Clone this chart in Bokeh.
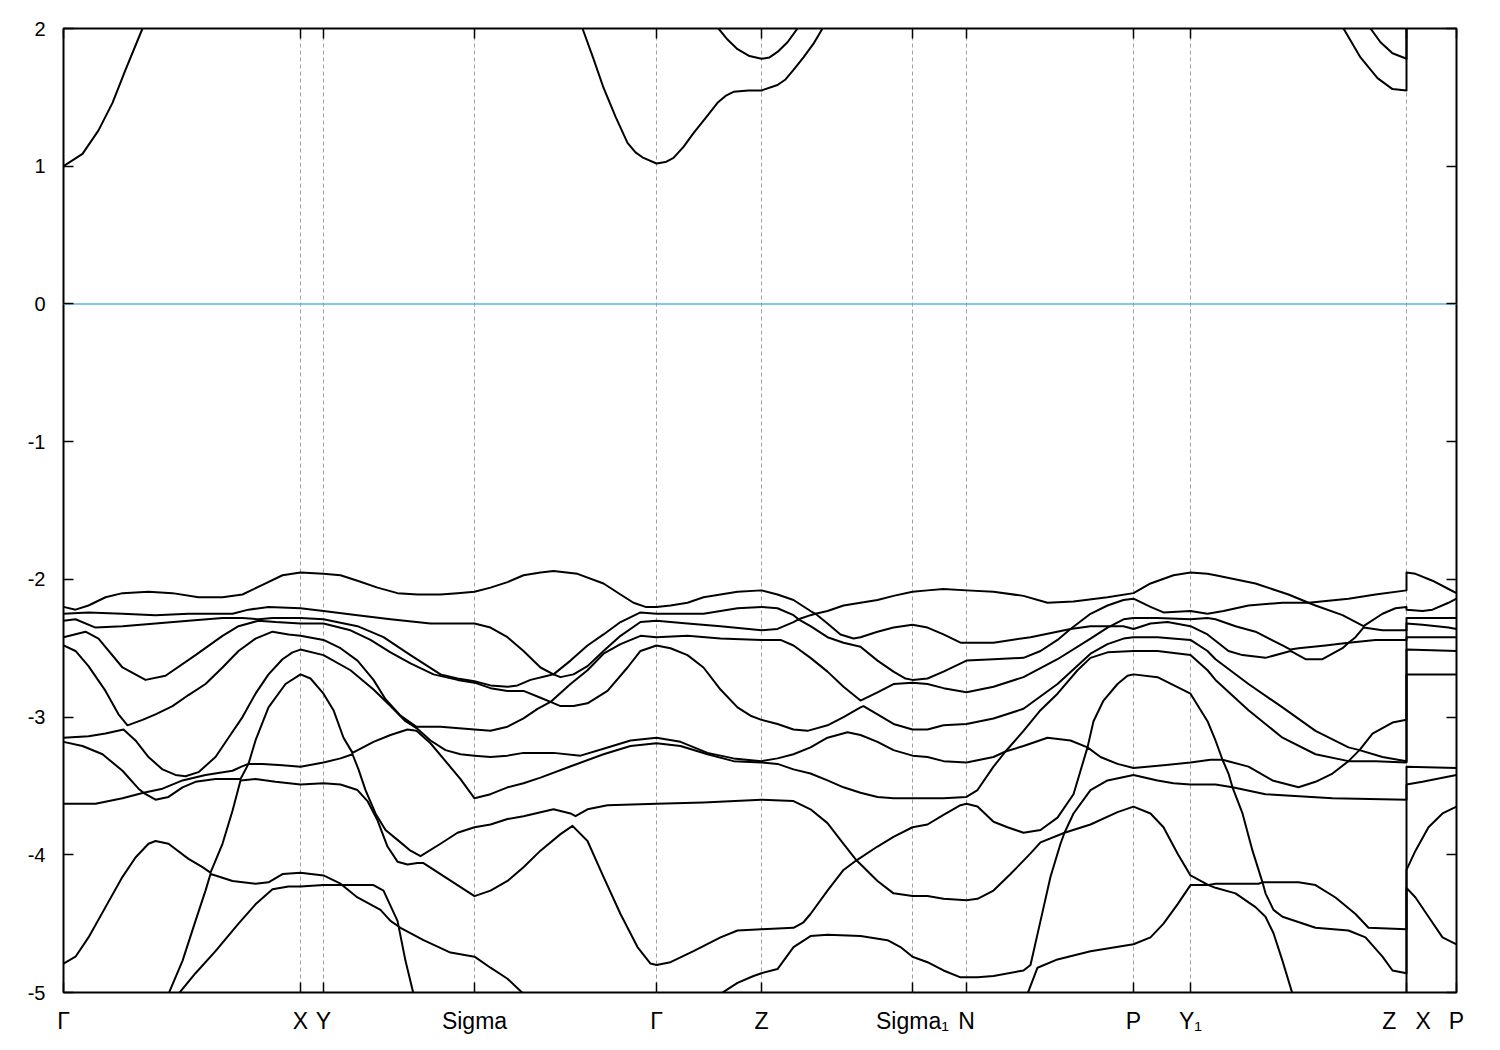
from bokeh.plotting import figure
from bokeh.models import FixedTicker, CustomJSTickFormatter, LinearAxis, Range1d
from bokeh.embed import file_html
from bokeh.resources import INLINE

# high-symmetry points along the k-path
KPOS = [0.000, 0.237, 0.260, 0.411, 0.593, 0.698, 0.849, 0.903, 1.070, 1.127, 1.343, 1.393]
KLAB = ["\u0393", "X", "Y", "Sigma", "\u0393", "Z", "Sigma\u2081", "N", "P", "Y\u2081",
        "Z\u00a0\u00a0\u00a0X", "P"]
YTICKS = [-5, -4, -3, -2, -1, 0, 1, 2]
E_FERMI = 0.0

# valence bands (k, E) sorted by band index from the top
B1 = [(0.000,-2.20),(0.012,-2.22),(0.025,-2.19),(0.042,-2.13),(0.059,-2.10),(0.085,-2.09),(0.109,-2.10),(0.135,-2.13),(0.159,-2.13),(0.179,-2.11),(0.199,-2.04),(0.219,-1.97),(0.237,-1.95),(0.260,-1.96),(0.277,-1.97),(0.294,-2.01),(0.314,-2.06),(0.334,-2.10),(0.354,-2.11),(0.377,-2.11),(0.394,-2.10),(0.411,-2.09),(0.427,-2.06),(0.444,-2.02),(0.460,-1.97),(0.477,-1.95),(0.490,-1.94),(0.514,-1.96),(0.540,-2.03),(0.557,-2.11),(0.570,-2.17),(0.582,-2.20),(0.593,-2.20),(0.607,-2.19),(0.624,-2.17),(0.640,-2.13),(0.657,-2.11),(0.674,-2.09),(0.698,-2.08),(0.714,-2.11),(0.730,-2.15),(0.747,-2.23),(0.752,-2.25),(0.764,-2.23),(0.780,-2.19),(0.797,-2.17),(0.814,-2.15),(0.830,-2.12),(0.849,-2.09),(0.864,-2.08),(0.880,-2.07),(0.903,-2.08),(0.930,-2.09),(0.960,-2.12),(0.984,-2.17),(1.010,-2.16),(1.044,-2.13),(1.070,-2.10),(1.087,-2.03),(1.110,-1.97),(1.127,-1.95),(1.144,-1.96),(1.152,-1.97),(1.192,-2.03),(1.225,-2.11),(1.245,-2.17),(1.285,-2.14),(1.312,-2.11),(1.343,-2.08),(1.343,-1.95),(1.352,-1.96),(1.369,-2.01),(1.385,-2.07),(1.393,-2.10)]
B2 = [(0.000,-2.25),(0.025,-2.24),(0.059,-2.25),(0.092,-2.26),(0.125,-2.25),(0.152,-2.25),(0.169,-2.25),(0.185,-2.22),(0.205,-2.20),(0.237,-2.21),(0.260,-2.23),(0.294,-2.26),(0.327,-2.29),(0.367,-2.32),(0.411,-2.32),(0.427,-2.35),(0.444,-2.42),(0.460,-2.52),(0.477,-2.64),(0.490,-2.69),(0.507,-2.59),(0.524,-2.48),(0.540,-2.40),(0.557,-2.31),(0.577,-2.24),(0.593,-2.25),(0.624,-2.25),(0.640,-2.25),(0.657,-2.23),(0.674,-2.21),(0.698,-2.20),(0.714,-2.21),(0.730,-2.26),(0.735,-2.29),(0.747,-2.26),(0.752,-2.25),(0.764,-2.32),(0.777,-2.40),(0.790,-2.43),(0.797,-2.42),(0.814,-2.38),(0.830,-2.35),(0.849,-2.33),(0.864,-2.35),(0.880,-2.40),(0.897,-2.46),(0.903,-2.46),(0.930,-2.46),(0.967,-2.42),(1.007,-2.36),(1.027,-2.25),(1.044,-2.19),(1.060,-2.15),(1.070,-2.14),(1.087,-2.20),(1.100,-2.24),(1.127,-2.23),(1.144,-2.25),(1.160,-2.23),(1.185,-2.19),(1.219,-2.17),(1.245,-2.17),(1.252,-2.19),(1.279,-2.26),(1.300,-2.34),(1.319,-2.25),(1.332,-2.21),(1.343,-2.20),(1.343,-2.22),(1.359,-2.23),(1.369,-2.22),(1.385,-2.17),(1.393,-2.14)]
B3 = [(0.000,-2.30),(0.012,-2.29),(0.032,-2.35),(0.059,-2.34),(0.092,-2.32),(0.125,-2.30),(0.159,-2.28),(0.179,-2.28),(0.195,-2.29),(0.209,-2.28),(0.237,-2.28),(0.260,-2.29),(0.294,-2.34),(0.320,-2.42),(0.347,-2.55),(0.377,-2.69),(0.394,-2.72),(0.411,-2.74),(0.427,-2.77),(0.444,-2.78),(0.454,-2.77),(0.467,-2.73),(0.484,-2.70),(0.490,-2.69),(0.497,-2.71),(0.510,-2.69),(0.524,-2.63),(0.540,-2.52),(0.557,-2.41),(0.577,-2.31),(0.593,-2.30),(0.624,-2.32),(0.657,-2.34),(0.698,-2.37),(0.714,-2.36),(0.730,-2.31),(0.735,-2.29),(0.747,-2.34),(0.764,-2.42),(0.780,-2.46),(0.797,-2.49),(0.814,-2.59),(0.830,-2.67),(0.842,-2.72),(0.849,-2.73),(0.864,-2.72),(0.880,-2.67),(0.903,-2.59),(0.930,-2.58),(0.960,-2.57),(0.977,-2.52),(0.994,-2.44),(1.007,-2.36),(1.027,-2.34),(1.047,-2.34),(1.060,-2.29),(1.070,-2.28),(1.094,-2.28),(1.127,-2.29),(1.144,-2.28),(1.152,-2.29),(1.172,-2.34),(1.192,-2.38),(1.219,-2.48),(1.227,-2.51),(1.235,-2.50),(1.262,-2.48),(1.285,-2.46),(1.292,-2.42),(1.300,-2.35),(1.319,-2.37),(1.343,-2.37),(1.343,-2.28),(1.393,-2.28)]
B4 = [(0.000,-2.42),(0.022,-2.38),(0.035,-2.43),(0.059,-2.64),(0.082,-2.73),(0.102,-2.70),(0.132,-2.55),(0.159,-2.41),(0.175,-2.34),(0.195,-2.30),(0.212,-2.31),(0.237,-2.32),(0.260,-2.32),(0.287,-2.37),(0.307,-2.44),(0.327,-2.53),(0.347,-2.61),(0.370,-2.69),(0.394,-2.73),(0.411,-2.75),(0.427,-2.79),(0.444,-2.81),(0.460,-2.81),(0.477,-2.86),(0.487,-2.89),(0.507,-2.76),(0.524,-2.66),(0.540,-2.54),(0.557,-2.47),(0.577,-2.41),(0.593,-2.42),(0.624,-2.41),(0.657,-2.43),(0.698,-2.44),(0.717,-2.44),(0.730,-2.48),(0.747,-2.57),(0.764,-2.67),(0.780,-2.78),(0.797,-2.88),(0.814,-2.82),(0.830,-2.76),(0.849,-2.75),(0.864,-2.76),(0.880,-2.79),(0.903,-2.82),(0.930,-2.78),(0.960,-2.71),(0.994,-2.58),(1.027,-2.43),(1.044,-2.35),(1.047,-2.34),(1.060,-2.34),(1.070,-2.36),(1.087,-2.32),(1.104,-2.31),(1.127,-2.34),(1.144,-2.40),(1.165,-2.52),(1.179,-2.55),(1.202,-2.57),(1.227,-2.52),(1.242,-2.58),(1.259,-2.58),(1.279,-2.50),(1.285,-2.46),(1.312,-2.44),(1.343,-2.44),(1.343,-2.32),(1.359,-2.33),(1.385,-2.35),(1.393,-2.36)]
B5 = [(0.000,-2.48),(0.012,-2.52),(0.025,-2.63),(0.042,-2.81),(0.055,-2.98),(0.064,-3.06),(0.079,-3.02),(0.092,-2.98),(0.109,-2.92),(0.125,-2.84),(0.142,-2.76),(0.159,-2.64),(0.175,-2.52),(0.192,-2.43),(0.209,-2.38),(0.225,-2.40),(0.237,-2.41),(0.260,-2.44),(0.277,-2.50),(0.294,-2.59),(0.310,-2.73),(0.322,-2.87),(0.337,-2.99),(0.353,-3.07),(0.377,-3.07),(0.411,-3.09),(0.427,-3.10),(0.444,-3.07),(0.460,-3.01),(0.474,-2.94),(0.487,-2.89),(0.497,-2.92),(0.510,-2.92),(0.524,-2.90),(0.544,-2.81),(0.564,-2.64),(0.577,-2.52),(0.593,-2.48),(0.607,-2.50),(0.624,-2.55),(0.640,-2.64),(0.657,-2.80),(0.674,-2.93),(0.687,-2.99),(0.698,-3.02),(0.714,-3.05),(0.730,-3.09),(0.744,-3.10),(0.764,-3.06),(0.780,-3.00),(0.797,-2.93),(0.800,-2.92),(0.814,-2.98),(0.830,-3.05),(0.849,-3.09),(0.864,-3.09),(0.880,-3.06),(0.903,-3.05),(0.930,-3.01),(0.960,-2.94),(0.994,-2.76),(1.027,-2.54),(1.044,-2.47),(1.060,-2.43),(1.070,-2.42),(1.094,-2.42),(1.127,-2.44),(1.144,-2.52),(1.152,-2.58),(1.185,-2.76),(1.219,-2.93),(1.252,-3.10),(1.285,-3.22),(1.296,-3.24),(1.309,-3.12),(1.329,-3.04),(1.343,-3.02),(1.343,-2.42),(1.393,-2.42)]
B6 = [(0.000,-3.15),(0.025,-3.14),(0.042,-3.12),(0.060,-3.09),(0.072,-3.17),(0.085,-3.29),(0.099,-3.38),(0.112,-3.42),(0.122,-3.43),(0.135,-3.40),(0.152,-3.29),(0.165,-3.15),(0.179,-3.00),(0.192,-2.83),(0.205,-2.69),(0.219,-2.58),(0.229,-2.53),(0.237,-2.51),(0.260,-2.55),(0.287,-2.66),(0.310,-2.80),(0.327,-2.92),(0.342,-3.03),(0.353,-3.08),(0.367,-3.17),(0.382,-3.24),(0.397,-3.27),(0.411,-3.28),(0.427,-3.29),(0.444,-3.28),(0.460,-3.26),(0.477,-3.26),(0.490,-3.26),(0.517,-3.28),(0.540,-3.23),(0.567,-3.17),(0.593,-3.15),(0.617,-3.18),(0.644,-3.26),(0.670,-3.30),(0.698,-3.32),(0.714,-3.30),(0.730,-3.27),(0.747,-3.22),(0.764,-3.15),(0.784,-3.11),(0.797,-3.13),(0.814,-3.18),(0.830,-3.24),(0.849,-3.28),(0.864,-3.29),(0.880,-3.32),(0.903,-3.33),(0.930,-3.29),(0.942,-3.25),(0.960,-3.10),(0.977,-2.95),(0.994,-2.83),(1.014,-2.66),(1.027,-2.57),(1.044,-2.53),(1.070,-2.52),(1.094,-2.52),(1.127,-2.55),(1.144,-2.66),(1.152,-2.73),(1.185,-2.95),(1.219,-3.15),(1.252,-3.27),(1.285,-3.32),(1.296,-3.24),(1.319,-3.29),(1.343,-3.32),(1.343,-2.51),(1.393,-2.52)]
B7 = [(0.000,-3.18),(0.019,-3.21),(0.039,-3.27),(0.059,-3.39),(0.075,-3.52),(0.080,-3.55),(0.099,-3.52),(0.119,-3.46),(0.142,-3.42),(0.169,-3.39),(0.178,-3.36),(0.185,-3.34),(0.192,-3.17),(0.205,-2.93),(0.222,-2.76),(0.237,-2.69),(0.247,-2.72),(0.260,-2.83),(0.270,-2.95),(0.280,-3.15),(0.289,-3.26),(0.310,-3.18),(0.327,-3.13),(0.344,-3.09),(0.353,-3.10),(0.367,-3.19),(0.382,-3.32),(0.397,-3.45),(0.411,-3.59),(0.427,-3.56),(0.444,-3.51),(0.460,-3.48),(0.477,-3.44),(0.510,-3.35),(0.540,-3.27),(0.567,-3.21),(0.593,-3.19),(0.617,-3.21),(0.644,-3.27),(0.670,-3.32),(0.698,-3.33),(0.714,-3.34),(0.730,-3.38),(0.747,-3.41),(0.764,-3.46),(0.780,-3.51),(0.797,-3.55),(0.814,-3.58),(0.830,-3.59),(0.849,-3.59),(0.864,-3.59),(0.880,-3.59),(0.903,-3.58),(0.914,-3.53),(0.930,-3.36),(0.942,-3.25),(0.960,-3.21),(0.984,-3.15),(1.007,-3.17),(1.024,-3.22),(1.030,-3.03),(1.040,-2.88),(1.054,-2.76),(1.064,-2.70),(1.070,-2.69),(1.094,-2.71),(1.127,-2.83),(1.144,-3.03),(1.152,-3.17),(1.159,-3.31),(1.185,-3.36),(1.209,-3.46),(1.235,-3.51),(1.252,-3.47),(1.269,-3.41),(1.285,-3.32),(1.312,-3.32),(1.343,-3.33),(1.343,-2.69),(1.393,-2.69)]
B8 = [(0.000,-3.63),(0.032,-3.63),(0.059,-3.59),(0.080,-3.55),(0.092,-3.60),(0.105,-3.58),(0.119,-3.51),(0.132,-3.47),(0.152,-3.45),(0.177,-3.45),(0.185,-3.34),(0.199,-3.34),(0.219,-3.35),(0.237,-3.36),(0.260,-3.33),(0.277,-3.30),(0.289,-3.27),(0.295,-3.38),(0.302,-3.53),(0.312,-3.70),(0.322,-3.82),(0.337,-3.91),(0.347,-3.97),(0.357,-4.01),(0.377,-3.92),(0.394,-3.84),(0.411,-3.80),(0.427,-3.78),(0.444,-3.74),(0.460,-3.72),(0.490,-3.67),(0.507,-3.70),(0.512,-3.72),(0.524,-3.67),(0.544,-3.64),(0.593,-3.63),(0.640,-3.62),(0.698,-3.60),(0.730,-3.61),(0.747,-3.67),(0.764,-3.77),(0.780,-3.92),(0.793,-4.04),(0.814,-3.94),(0.830,-3.87),(0.849,-3.80),(0.864,-3.78),(0.880,-3.71),(0.897,-3.64),(0.903,-3.63),(0.914,-3.65),(0.930,-3.76),(0.944,-3.80),(0.960,-3.84),(0.977,-3.82),(0.994,-3.73),(1.010,-3.56),(1.024,-3.22),(1.037,-3.29),(1.054,-3.34),(1.070,-3.37),(1.100,-3.35),(1.127,-3.33),(1.147,-3.31),(1.159,-3.31),(1.165,-3.41),(1.169,-3.51),(1.202,-3.56),(1.269,-3.59),(1.343,-3.60),(1.343,-3.36),(1.393,-3.37)]
B9 = [(0.000,-4.79),(0.012,-4.74),(0.025,-4.60),(0.042,-4.38),(0.059,-4.16),(0.072,-4.02),(0.085,-3.92),(0.092,-3.90),(0.105,-3.92),(0.125,-4.03),(0.139,-4.09),(0.147,-4.13),(0.159,-3.92),(0.169,-3.68),(0.177,-3.46),(0.192,-3.45),(0.212,-3.47),(0.237,-3.49),(0.260,-3.48),(0.277,-3.49),(0.294,-3.53),(0.304,-3.61),(0.314,-3.75),(0.324,-3.94),(0.334,-4.05),(0.344,-4.07),(0.354,-4.06),(0.360,-4.06),(0.377,-4.14),(0.394,-4.22),(0.411,-4.30),(0.427,-4.26),(0.444,-4.19),(0.460,-4.09),(0.477,-3.97),(0.497,-3.85),(0.509,-3.79),(0.524,-3.90),(0.540,-4.16),(0.557,-4.43),(0.574,-4.67),(0.587,-4.79),(0.593,-4.80),(0.607,-4.78),(0.630,-4.70),(0.657,-4.60),(0.674,-4.55),(0.698,-4.54),(0.730,-4.53),(0.740,-4.49),(0.747,-4.43),(0.764,-4.26),(0.780,-4.11),(0.793,-4.04),(0.814,-4.19),(0.830,-4.28),(0.849,-4.30),(0.864,-4.30),(0.880,-4.32),(0.903,-4.33),(0.914,-4.32),(0.930,-4.26),(0.947,-4.14),(0.967,-3.99),(0.977,-3.91),(1.001,-3.84),(1.010,-3.70),(1.027,-3.53),(1.044,-3.46),(1.070,-3.42),(1.094,-3.46),(1.110,-3.48),(1.127,-3.49),(1.152,-3.49),(1.169,-3.51),(1.179,-3.70),(1.189,-3.97),(1.199,-4.20),(1.235,-4.20),(1.252,-4.22),(1.272,-4.31),(1.292,-4.43),(1.305,-4.53),(1.343,-4.54),(1.343,-3.49),(1.359,-3.47),(1.379,-3.44),(1.393,-3.42)]
B10 = [(0.000,-5.25),(0.105,-5.01),(0.119,-4.77),(0.132,-4.48),(0.142,-4.26),(0.147,-4.14),(0.152,-4.15),(0.169,-4.19),(0.192,-4.21),(0.205,-4.20),(0.219,-4.14),(0.237,-4.13),(0.260,-4.15),(0.277,-4.21),(0.294,-4.31),(0.317,-4.40),(0.327,-4.48),(0.337,-4.53),(0.360,-4.62),(0.387,-4.71),(0.411,-4.74),(0.427,-4.82),(0.444,-4.90),(0.460,-5.01),(0.593,-5.25),(0.657,-5.01),(0.674,-4.93),(0.690,-4.88),(0.698,-4.86),(0.714,-4.83),(0.730,-4.67),(0.747,-4.59),(0.764,-4.58),(0.797,-4.59),(0.824,-4.62),(0.837,-4.67),(0.849,-4.74),(0.864,-4.78),(0.880,-4.84),(0.897,-4.89),(0.903,-4.89),(0.914,-4.89),(0.930,-4.88),(0.960,-4.84),(0.967,-4.80),(0.977,-4.48),(0.987,-4.16),(0.997,-3.92),(1.001,-3.84),(1.027,-3.78),(1.054,-3.69),(1.070,-3.65),(1.087,-3.70),(1.100,-3.80),(1.114,-3.99),(1.127,-4.15),(1.145,-4.22),(1.152,-4.21),(1.195,-4.21),(1.199,-4.20),(1.202,-4.28),(1.210,-4.40),(1.219,-4.45),(1.252,-4.53),(1.285,-4.55),(1.302,-4.60),(1.319,-4.74),(1.329,-4.84),(1.343,-4.86),(1.343,-4.11),(1.352,-3.97),(1.365,-3.80),(1.379,-3.70),(1.393,-3.65)]
B11 = [(0.000,-5.49),(0.115,-5.01),(0.132,-4.86),(0.152,-4.70),(0.175,-4.50),(0.192,-4.36),(0.209,-4.25),(0.225,-4.23),(0.237,-4.23),(0.260,-4.22),(0.310,-4.22),(0.320,-4.26),(0.334,-4.48),(0.342,-4.77),(0.350,-5.01),(0.411,-5.37),(0.593,-5.49),(0.698,-5.37),(0.903,-5.49),(0.964,-5.01),(0.974,-4.82),(0.994,-4.76),(1.027,-4.70),(1.070,-4.65),(1.087,-4.60),(1.100,-4.50),(1.114,-4.36),(1.127,-4.22),(1.145,-4.22),(1.152,-4.24),(1.172,-4.28),(1.192,-4.38),(1.202,-4.45),(1.210,-4.57),(1.219,-4.77),(1.229,-5.01),(1.343,-5.37),(1.343,-4.24),(1.352,-4.31),(1.365,-4.45),(1.379,-4.60),(1.393,-4.65)]

# conduction bands
CB1 = [(0.000,1.00),(0.019,1.09),(0.035,1.26),(0.049,1.46),(0.062,1.70),(0.079,2.00),(0.237,2.60),(0.260,2.60),(0.411,2.50),(0.519,2.00),(0.530,1.78),(0.540,1.57),(0.552,1.36),(0.564,1.17),(0.572,1.10),(0.580,1.06),(0.593,1.02),(0.602,1.03),(0.610,1.06),(0.620,1.14),(0.630,1.24),(0.642,1.35),(0.654,1.46),(0.662,1.51),(0.670,1.54),(0.685,1.55),(0.698,1.55),(0.714,1.59),(0.722,1.63),(0.730,1.70),(0.740,1.79),(0.750,1.89),(0.759,2.00),(0.849,2.50),(0.903,2.60),(1.070,2.60),(1.127,2.50),(1.280,2.00),(1.297,1.79),(1.314,1.64),(1.329,1.56),(1.343,1.55),(1.343,2.60),(1.393,2.60)]
CB2 = [(0.000,2.80),(0.237,2.90),(0.411,2.70),(0.593,2.30),(0.655,2.00),(0.664,1.92),(0.674,1.85),(0.686,1.80),(0.698,1.78),(0.706,1.79),(0.714,1.83),(0.724,1.90),(0.734,2.00),(0.903,2.60),(1.070,2.70),(1.307,2.00),(1.317,1.90),(1.329,1.82),(1.343,1.78),(1.343,2.90),(1.393,2.90)]

BANDS = [B1, B2, B3, B4, B5, B6, B7, B8, B9, B10, B11, CB1, CB2]

p = figure(frame_width=1393, frame_height=964,
           x_range=Range1d(KPOS[0], KPOS[-1]), y_range=Range1d(-5, 2),
           output_backend="svg", toolbar_location=None,
           min_border_left=63, min_border_top=28, min_border_right=30, min_border_bottom=50,
           background_fill_color="white", border_fill_color="white")

p.outline_line_color = "black"
p.outline_line_width = 2
p.outline_line_alpha = 1.0

# dotted vertical lines at the high-symmetry points
p.xgrid.ticker = FixedTicker(ticks=KPOS[1:-1])
p.xgrid.grid_line_color = "#a0a0a0"
p.xgrid.grid_line_dash = "4 3"
p.xgrid.grid_line_width = 1
p.ygrid.grid_line_color = None

xfmt_code = """
for (let i = 0; i < pos.length; i++) {
  if (Math.abs(tick - pos[i]) < 1e-6) { return labs[i]; }
}
return "";
"""
yfmt_code = "return tick.toFixed(0);"

xaxis = p.xaxis[0]
xaxis.ticker = FixedTicker(ticks=KPOS)
xaxis.formatter = CustomJSTickFormatter(args=dict(pos=KPOS, labs=KLAB), code=xfmt_code)
xaxis.major_label_text_font = "Liberation Sans"
xaxis.major_label_text_font_size = "23px"
xaxis.major_label_text_color = "black"
xaxis.major_label_standoff = 15

yaxis = p.yaxis[0]
yaxis.ticker = FixedTicker(ticks=YTICKS)
yaxis.formatter = CustomJSTickFormatter(code=yfmt_code)
yaxis.major_label_text_font = "Liberation Sans"
yaxis.major_label_text_font_size = "20px"
yaxis.major_label_text_color = "black"
yaxis.major_label_standoff = 18

top = LinearAxis(ticker=FixedTicker(ticks=KPOS), major_label_text_font_size="1px",
                 major_label_text_color=None)
right = LinearAxis(ticker=FixedTicker(ticks=YTICKS), major_label_text_font_size="1px",
                   major_label_text_color=None)
p.add_layout(top, "above")
p.add_layout(right, "right")

for ax in [xaxis, yaxis, top, right]:
    ax.axis_line_color = None
    ax.major_tick_in = 10
    ax.major_tick_out = 0
    ax.minor_tick_line_color = None
    ax.major_tick_line_color = "black"
    ax.major_tick_line_width = 1.5

# Fermi level
p.line([KPOS[0], KPOS[-1]], [E_FERMI, E_FERMI], line_color="#56b4e9", line_width=1.5)

for band in BANDS:
    ks = [k for k, e in band]
    es = [e for k, e in band]
    p.line(ks, es, line_color="black", line_width=2, line_join="round")

open("out.html", "w").write(file_html(p, INLINE))
